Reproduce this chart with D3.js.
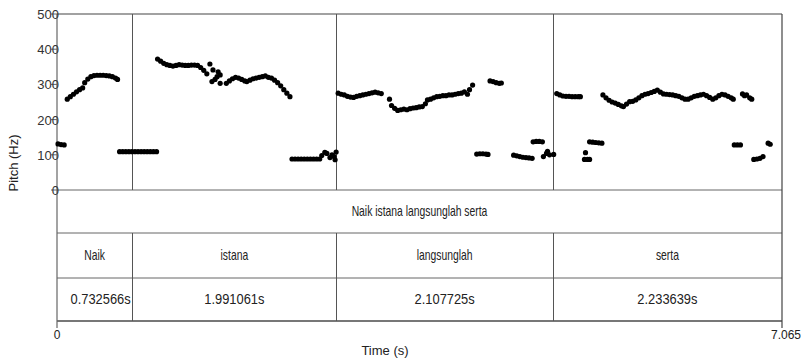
<!DOCTYPE html>
<html lang="en">
<head>
    <meta charset="UTF-8">
    <title> Pitch Track </title>
    <script src="https://cdn.jsdelivr.net/npm/d3@7/dist/d3.min.js"></script>
    <style>
        body { margin: 0; background: #fff; }
        text { font-family: "Liberation Sans", Arial, sans-serif; fill: #222; }
    </style>
</head>
<body>
<svg width="808" height="360"></svg>
<script>
    // tiers
    let phrase = "Naik istana langsunglah serta";
    let words = ["Naik", "istana", "langsunglah", "serta"];
    let durations = [0.732566, 1.991061, 2.107725, 2.233639];
    let totalTime = 7.065;
    let yTicks = [0, 100, 200, 300, 400, 500];

    // pitch points [time (s), Hz], per word
    let naikPitch = [
        [0.01,131],[0.04,129],[0.07,128],
        [0.10,258],[0.13,265],[0.16,272],[0.19,279],[0.22,285],[0.25,290],
        [0.27,305],[0.30,315],[0.33,322],[0.36,325],[0.39,326],[0.42,326],[0.45,326],
        [0.48,325],[0.51,324],[0.54,322],[0.57,318],[0.59,314],
        [0.61,109],[0.64,109],[0.67,109],[0.70,109],[0.73,109]
    ];
    let istanaPitch = [
        [0.76,109],[0.79,109],[0.82,109],[0.85,109],[0.88,109],[0.91,109],[0.94,109],[0.97,109],
        [0.98,372],[1.01,366],[1.04,360],[1.07,356],[1.10,354],[1.13,352],[1.16,354],[1.19,356],
        [1.22,355],[1.25,354],[1.28,354],[1.31,355],[1.34,355],[1.37,354],[1.40,348],[1.43,340],[1.46,330],
        [1.49,358],[1.51,308],[1.52,341],[1.54,314],[1.57,336],[1.59,327],[1.59,303],[1.56,322],
        [1.65,303],[1.68,310],[1.71,316],[1.74,320],[1.77,318],[1.80,314],[1.83,310],[1.85,308],
        [1.88,312],[1.91,316],[1.94,318],[1.97,320],[2.00,322],[2.03,324],[2.06,320],[2.09,318],
        [2.12,312],[2.15,305],[2.18,296],[2.21,285],[2.24,275],[2.27,265],
        [2.29,88],[2.32,88],[2.35,88],[2.38,88],[2.41,88],[2.44,88],[2.47,88],[2.50,88],[2.53,88],[2.56,88],
        [2.58,98],[2.61,107],[2.63,104],[2.66,92],[2.68,100],[2.70,95],[2.71,86],[2.72,108]
    ];
    let langsunglahPitch = [
        [2.74,275],[2.77,272],[2.80,270],[2.83,266],[2.86,264],[2.89,263],[2.92,266],[2.95,268],
        [2.98,270],[3.01,272],[3.04,274],[3.07,276],[3.10,278],[3.13,276],[3.16,274],
        [3.24,258],[3.26,240],[3.29,232],[3.32,226],[3.35,228],[3.38,230],[3.41,228],[3.44,231],
        [3.47,233],[3.50,234],[3.53,236],[3.56,237],[3.59,245],[3.61,256],[3.64,258],[3.67,262],
        [3.70,265],[3.73,266],[3.76,268],[3.79,268],[3.82,270],[3.85,270],[3.88,272],[3.91,274],
        [3.94,275],[3.97,279],[4.00,272],[4.02,285],[4.05,298],
        [4.22,310],[4.25,308],[4.28,305],[4.31,303],[4.33,304],
        [4.09,102],[4.12,103],[4.15,103],[4.18,102],[4.20,101],
        [4.45,99],[4.48,97],[4.51,95],[4.54,93],[4.57,92],[4.60,91],[4.63,90],
        [4.64,137],[4.67,138],[4.70,138],[4.73,137],
        [4.74,95],[4.77,104],[4.80,100],[4.78,110]
    ];
    let sertaPitch = [
        [4.84,101],
        [4.87,274],[4.90,270],[4.93,267],[4.96,266],[4.99,266],[5.02,265],[5.05,265],[5.08,265],[5.10,265],
        [5.19,137],[5.22,136],[5.25,135],[5.28,134],[5.31,133],
        [5.15,106],[5.14,87],[5.17,87],[5.19,87],
        [5.32,270],[5.35,262],[5.38,255],[5.41,250],[5.44,247],[5.47,243],[5.50,239],[5.52,237],
        [5.55,244],[5.58,251],[5.61,252],[5.64,256],[5.67,262],[5.70,268],[5.73,272],[5.76,274],
        [5.79,277],[5.82,280],[5.85,284],[5.88,278],[5.91,273],[5.94,272],[5.97,271],[6.00,270],
        [6.03,268],[6.06,266],[6.09,262],[6.12,258],[6.15,258],[6.18,262],[6.21,266],[6.24,268],
        [6.27,270],[6.30,272],[6.33,268],[6.36,263],[6.39,258],[6.42,262],[6.45,268],[6.48,272],
        [6.51,270],[6.54,266],[6.57,262],[6.59,258],
        [6.68,273],[6.70,268],[6.72,270],[6.75,262],[6.77,258],
        [6.60,128],[6.63,128],[6.66,128],
        [6.79,87],[6.82,88],[6.85,90],[6.88,95],
        [6.93,133],[6.95,130]
    ];

    let svg = d3.select('svg');
    let plotLeft = 57, plotRight = 782, plotTop = 14, zeroY = 190;
    let tierY = [233, 278, 321];

    let scaleX = d3.scaleLinear().domain([0, totalTime]).range([plotLeft, plotRight]);
    let scaleY = d3.scaleLinear().domain([0, 500]).range([zeroY, plotTop]);

    // word boundaries from durations
    let bounds = [0];
    durations.forEach(function (d, i) { bounds.push(bounds[i] + d); });

    let lineCol = "#666";

    // horizontal lines of plot + tiers
    svg.append("line").attr("x1", plotLeft).attr("x2", plotRight).attr("y1", plotTop).attr("y2", plotTop)
        .style("stroke", "#444").style("stroke-width", "1.2px");
    [zeroY, tierY[0], tierY[1]].forEach(function (y) {
        svg.append("line").attr("x1", plotLeft).attr("x2", plotRight).attr("y1", y).attr("y2", y)
            .style("stroke", lineCol).style("stroke-width", "1px");
    });
    svg.append("line").attr("x1", plotLeft).attr("x2", plotRight).attr("y1", tierY[2]).attr("y2", tierY[2])
        .style("stroke", "#777").style("stroke-width", "2px");

    // left and right borders
    svg.append("line").attr("x1", plotLeft).attr("x2", plotLeft).attr("y1", plotTop).attr("y2", 328)
        .style("stroke", lineCol).style("stroke-width", "1.2px");
    svg.append("line").attr("x1", plotRight).attr("x2", plotRight).attr("y1", plotTop).attr("y2", 328)
        .style("stroke", "#444").style("stroke-width", "1.2px");

    // word boundaries: through plot and word/duration tiers
    bounds.slice(1, -1).forEach(function (b) {
        let x = Math.round(scaleX(b)) + 0.5;
        svg.append("line").attr("x1", x).attr("x2", x).attr("y1", plotTop).attr("y2", zeroY)
            .style("stroke", "#555").style("stroke-width", "1px");
        svg.append("line").attr("x1", x).attr("x2", x).attr("y1", tierY[0]).attr("y2", tierY[2])
            .style("stroke", "#555").style("stroke-width", "1px");
    });

    // y axis ticks and labels
    yTicks.forEach(function (t) {
        svg.append("line").attr("x1", plotLeft - 6).attr("x2", plotLeft).attr("y1", scaleY(t)).attr("y2", scaleY(t))
            .style("stroke", lineCol);
        svg.append("text").attr("x", plotLeft + 2).attr("y", scaleY(t) + 5)
            .attr("text-anchor", "end").style("font-size", "13px").style("fill", "#333").text(t);
    });
    svg.append("text").attr("transform", "translate(18," + 163 + ") rotate(-90)")
        .attr("text-anchor", "middle").style("font-size", "13px").text("Pitch (Hz)");

    // pitch points
    let allPitch = naikPitch.concat(istanaPitch, langsunglahPitch, sertaPitch);
    svg.append("g").selectAll("circle").data(allPitch).join("circle")
        .attr("cx", function (d) { return scaleX(d[0]); })
        .attr("cy", function (d) { return scaleY(d[1]); })
        .attr("r", 2.6)
        .style("fill", "#000");

    // tier texts (tall, narrow letters like the original font)
    function tierText(x, y, s, sx) {
        svg.append("text").attr("transform", "translate(" + x + "," + y + ") scale(" + sx + ",1)")
            .attr("text-anchor", "middle").style("font-size", "14px").text(s);
    }
    tierText((plotLeft + plotRight) / 2, 216, phrase, 0.74);
    words.forEach(function (w, i) {
        let mid = scaleX((bounds[i] + bounds[i + 1]) / 2);
        tierText(mid, 260, w, 0.74);
        tierText(mid + (i == 0 ? 6 : 0), 304, durations[i] + "s", 0.92);
    });

    // time axis
    svg.append("text").attr("x", scaleX(0)).attr("y", 339)
        .attr("text-anchor", "middle").style("font-size", "12px").text("0");
    svg.append("text").attr("x", scaleX(totalTime) + 4).attr("y", 339)
        .attr("text-anchor", "middle").style("font-size", "12px").text(totalTime);
    svg.append("text").attr("x", 385).attr("y", 355)
        .attr("text-anchor", "middle").style("font-size", "13px").text("Time (s)");
</script>
</body>
</html>
